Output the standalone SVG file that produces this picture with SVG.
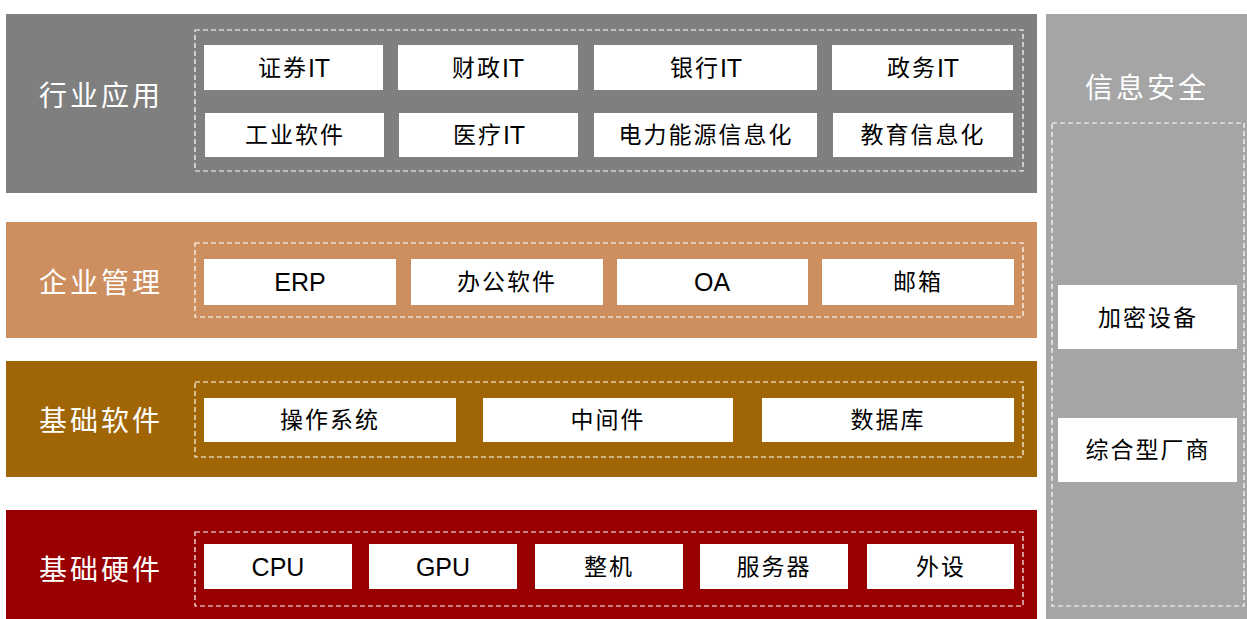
<svg xmlns="http://www.w3.org/2000/svg" width="1247" height="619" viewBox="0 0 1247 619">
<style>
.title{font-family:"Liberation Sans","Noto Sans CJK SC",sans-serif;font-size:28px;fill:#fff;text-anchor:middle;dominant-baseline:central;letter-spacing:3px}
.box{fill:#fff}
.lbl{font-family:"Liberation Sans","Noto Sans CJK SC",sans-serif;font-size:23px;fill:#000;text-anchor:middle;dominant-baseline:central;letter-spacing:2px}
.lat{font-size:25px;letter-spacing:0}
.dash{fill:none;stroke:#fff;stroke-width:1.2;stroke-dasharray:5 3}
</style>
<rect width="1247" height="619" fill="#fff"/>
<g id="layer-app">
<rect x="6" y="14" width="1031" height="179" fill="#7f7f7f"/>
<text class="title" x="101" y="96">行业应用</text>
<rect class="dash" x="195" y="30" width="828" height="141"/>
<g id="n-zq"><rect class="box" x="204" y="45" width="179" height="45"/><text class="lbl" x="294" y="68">证券<tspan class="lat">IT</tspan></text></g>
<g id="n-cz"><rect class="box" x="398" y="45" width="180" height="45"/><text class="lbl" x="488" y="68">财政<tspan class="lat">IT</tspan></text></g>
<g id="n-yh"><rect class="box" x="594" y="45" width="223" height="45"/><text class="lbl" x="706" y="68">银行<tspan class="lat">IT</tspan></text></g>
<g id="n-zw"><rect class="box" x="832" y="45" width="181" height="45"/><text class="lbl" x="923" y="68">政务<tspan class="lat">IT</tspan></text></g>
<g id="n-gy"><rect class="box" x="205" y="113" width="179" height="44"/><text class="lbl" x="295" y="135">工业软件</text></g>
<g id="n-yl"><rect class="box" x="399" y="113" width="179" height="44"/><text class="lbl" x="489" y="135">医疗<tspan class="lat">IT</tspan></text></g>
<g id="n-dl"><rect class="box" x="594" y="113" width="223" height="44"/><text class="lbl" x="706" y="135">电力能源信息化</text></g>
<g id="n-jy"><rect class="box" x="833" y="113" width="180" height="44"/><text class="lbl" x="923" y="135">教育信息化</text></g>
</g>
<g id="layer-ent">
<rect x="6" y="222" width="1031" height="116" fill="#cd8f5f"/>
<text class="title" x="101" y="283">企业管理</text>
<rect class="dash" x="195" y="243" width="828" height="74"/>
<g id="n-erp"><rect class="box" x="204" y="259" width="192" height="46"/><text class="lbl lat" x="300" y="282">ERP</text></g>
<g id="n-bg"><rect class="box" x="411" y="259" width="192" height="46"/><text class="lbl" x="507" y="282">办公软件</text></g>
<g id="n-oa"><rect class="box" x="617" y="259" width="191" height="46"/><text class="lbl lat" x="712" y="282">OA</text></g>
<g id="n-yx"><rect class="box" x="822" y="259" width="192" height="46"/><text class="lbl" x="918" y="282">邮箱</text></g>
</g>
<g id="layer-sw">
<rect x="6" y="361" width="1031" height="116" fill="#a06605"/>
<text class="title" x="101" y="421">基础软件</text>
<rect class="dash" x="195" y="382" width="828" height="75"/>
<g id="n-os"><rect class="box" x="204" y="398" width="252" height="44"/><text class="lbl" x="330" y="420">操作系统</text></g>
<g id="n-mw"><rect class="box" x="483" y="398" width="250" height="44"/><text class="lbl" x="608" y="420">中间件</text></g>
<g id="n-db"><rect class="box" x="762" y="398" width="252" height="44"/><text class="lbl" x="888" y="420">数据库</text></g>
</g>
<g id="layer-hw">
<rect x="6" y="510" width="1031" height="109" fill="#990000"/>
<text class="title" x="101" y="570">基础硬件</text>
<rect class="dash" x="195" y="532" width="828" height="74"/>
<g id="n-cpu"><rect class="box" x="204" y="544" width="148" height="45"/><text class="lbl lat" x="278" y="567">CPU</text></g>
<g id="n-gpu"><rect class="box" x="369" y="544" width="148" height="45"/><text class="lbl lat" x="443" y="567">GPU</text></g>
<g id="n-zj"><rect class="box" x="535" y="544" width="148" height="45"/><text class="lbl" x="609" y="567">整机</text></g>
<g id="n-fwq"><rect class="box" x="700" y="544" width="148" height="45"/><text class="lbl" x="774" y="567">服务器</text></g>
<g id="n-ws"><rect class="box" x="867" y="544" width="147" height="45"/><text class="lbl" x="941" y="567">外设</text></g>
</g>
<g id="layer-sec">
<rect x="1046" y="14" width="201" height="605" fill="#a5a5a5"/>
<text class="title" x="1147" y="88">信息安全</text>
<rect class="dash" x="1052" y="123" width="192" height="483"/>
<g id="n-jm"><rect class="box" x="1058" y="285" width="179" height="64"/><text class="lbl" x="1148" y="318">加密设备</text></g>
<g id="n-zh"><rect class="box" x="1058" y="418" width="179" height="64"/><text class="lbl" x="1148" y="450">综合型厂商</text></g>
</g>
<g id="connectors"></g>
</svg>
